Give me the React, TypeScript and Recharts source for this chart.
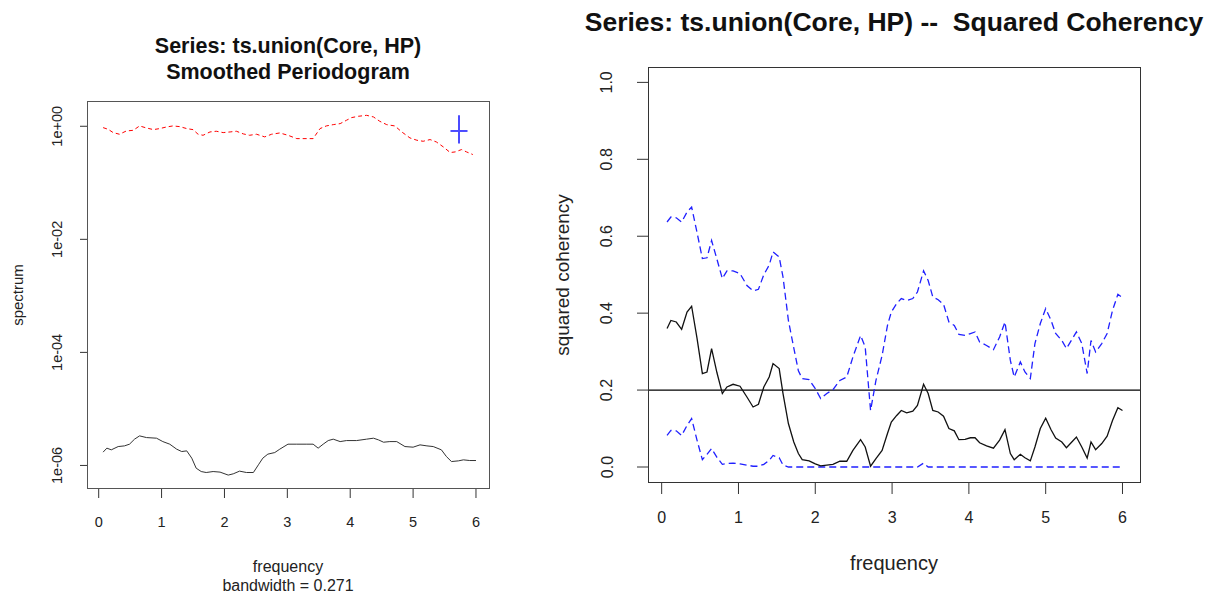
import { LineChart, Line, XAxis, YAxis, ReferenceLine } from 'recharts';

// ---- left panel: smoothed periodogram (log scale) ----
const coreFreq = [0.07, 0.15, 0.23, 0.33, 0.44, 0.55, 0.65, 0.76, 0.87, 0.97, 1.08, 1.18, 1.29, 1.4, 1.5, 1.58, 1.66, 1.77, 1.87, 1.98, 2.09, 2.19, 2.3, 2.4, 2.51, 2.64, 2.75, 2.88, 3.01, 3.15, 3.31, 3.41, 3.52, 3.62, 3.73, 3.84, 3.94, 4.02, 4.13, 4.26, 4.37, 4.47, 4.58, 4.71, 4.82, 4.95, 5.06, 5.16, 5.27, 5.37, 5.48, 5.59, 5.67, 5.77, 5.85, 5.95];
const coreSpec = [0.946, 0.885, 0.773, 0.723, 0.826, 0.849, 1.014, 0.933, 0.873, 0.91, 0.973, 1.014, 0.986, 0.91, 0.873, 0.723, 0.693, 0.794, 0.817, 0.773, 0.794, 0.817, 0.733, 0.693, 0.723, 0.649, 0.723, 0.762, 0.693, 0.605, 0.605, 0.605, 0.91, 1.014, 1.069, 1.114, 1.276, 1.422, 1.503, 1.563, 1.462, 1.225, 1.069, 1.014, 0.794, 0.622, 0.566, 0.543, 0.582, 0.528, 0.432, 0.343, 0.352, 0.387, 0.352, 0.316];

const hpFreq = [0.07, 0.13, 0.2, 0.31, 0.41, 0.49, 0.57, 0.65, 0.76, 0.92, 1.02, 1.13, 1.24, 1.32, 1.4, 1.48, 1.55, 1.63, 1.71, 1.82, 1.93, 2.06, 2.14, 2.24, 2.35, 2.46, 2.54, 2.61, 2.69, 2.8, 2.88, 3.01, 3.15, 3.31, 3.41, 3.49, 3.57, 3.65, 3.73, 3.84, 3.94, 4.1, 4.26, 4.37, 4.45, 4.53, 4.63, 4.74, 4.87, 5.0, 5.11, 5.22, 5.32, 5.45, 5.53, 5.61, 5.72, 5.8, 5.9, 6.0];
const hpSpec = [1.718e-6, 2.023e-6, 1.888e-6, 2.158e-6, 2.218e-6, 2.377e-6, 2.917e-6, 3.334e-6, 3.112e-6, 3.034e-6, 2.642e-6, 2.377e-6, 1.941e-6, 1.762e-6, 1.811e-6, 1.346e-6, 8.95e-7, 7.8e-7, 7.5e-7, 7.8e-7, 7.62e-7, 6.75e-7, 7.11e-7, 7.93e-7, 7.5e-7, 7.5e-7, 1.026e-6, 1.346e-6, 1.585e-6, 1.69e-6, 1.941e-6, 2.377e-6, 2.377e-6, 2.377e-6, 2.377e-6, 2.023e-6, 2.377e-6, 2.754e-6, 2.917e-6, 2.642e-6, 2.754e-6, 2.754e-6, 2.917e-6, 3.034e-6, 2.831e-6, 2.576e-6, 2.642e-6, 2.642e-6, 2.158e-6, 2.104e-6, 2.312e-6, 2.218e-6, 2.158e-6, 1.888e-6, 1.435e-6, 1.172e-6, 1.205e-6, 1.256e-6, 1.222e-6, 1.222e-6];

// bandwidth / CI cross
const crossFreq = 5.73;
const crossHalfBand = 0.1355;
const crossMid = 0.826;
const crossLow = 0.494;
const crossHigh = 1.563;

const freqTicks = [0, 1, 2, 3, 4, 5, 6];
const specTicks = [1e-6, 1e-4, 1e-2, 1];
const specTickLabels = ['1e-06', '1e-04', '1e-02', '1e+00'];

// ---- right panel: squared coherency ----
const cohFreq = [0.07, 0.12, 0.19, 0.26, 0.33, 0.39, 0.46, 0.53, 0.59, 0.65, 0.72, 0.79, 0.85, 0.93, 1.02, 1.11, 1.19, 1.26, 1.33, 1.4, 1.45, 1.53, 1.58, 1.65, 1.72, 1.78, 1.83, 1.92, 2.0, 2.07, 2.15, 2.23, 2.32, 2.41, 2.49, 2.59, 2.65, 2.72, 2.79, 2.87, 2.94, 2.99, 3.06, 3.12, 3.19, 3.27, 3.33, 3.41, 3.47, 3.53, 3.6, 3.67, 3.74, 3.81, 3.87, 3.95, 4.02, 4.08, 4.14, 4.23, 4.32, 4.4, 4.47, 4.54, 4.59, 4.67, 4.73, 4.8, 4.86, 4.93, 5.0, 5.07, 5.13, 5.21, 5.27, 5.34, 5.4, 5.47, 5.54, 5.59, 5.65, 5.73, 5.8, 5.87, 5.94, 6.0];
const cohValue = [0.36, 0.381, 0.377, 0.358, 0.403, 0.418, 0.335, 0.243, 0.247, 0.308, 0.245, 0.191, 0.208, 0.215, 0.21, 0.182, 0.156, 0.163, 0.208, 0.234, 0.269, 0.256, 0.191, 0.113, 0.065, 0.035, 0.019, 0.016, 0.008, 0.003, 0.005, 0.007, 0.015, 0.015, 0.043, 0.071, 0.052, 0.002, 0.022, 0.043, 0.087, 0.117, 0.134, 0.147, 0.141, 0.145, 0.16, 0.215, 0.191, 0.147, 0.143, 0.132, 0.1, 0.094, 0.071, 0.072, 0.076, 0.076, 0.063, 0.055, 0.049, 0.07, 0.097, 0.035, 0.019, 0.033, 0.024, 0.016, 0.052, 0.1, 0.127, 0.097, 0.075, 0.065, 0.05, 0.065, 0.078, 0.052, 0.023, 0.065, 0.045, 0.061, 0.08, 0.121, 0.154, 0.147];
const cohUpper = [0.637, 0.65, 0.648, 0.637, 0.663, 0.676, 0.61, 0.542, 0.544, 0.589, 0.54, 0.49, 0.51, 0.51, 0.503, 0.472, 0.458, 0.462, 0.5, 0.525, 0.559, 0.546, 0.494, 0.381, 0.31, 0.25, 0.23, 0.227, 0.204, 0.178, 0.191, 0.201, 0.225, 0.234, 0.286, 0.342, 0.312, 0.147, 0.225, 0.29, 0.368, 0.403, 0.425, 0.438, 0.433, 0.438, 0.455, 0.51, 0.485, 0.442, 0.435, 0.423, 0.377, 0.368, 0.345, 0.342, 0.347, 0.351, 0.325, 0.316, 0.305, 0.338, 0.377, 0.277, 0.234, 0.273, 0.247, 0.23, 0.321, 0.373, 0.412, 0.381, 0.347, 0.329, 0.308, 0.331, 0.351, 0.321, 0.243, 0.329, 0.299, 0.321, 0.347, 0.407, 0.449, 0.44];
const cohLower = [0.082, 0.095, 0.094, 0.082, 0.108, 0.126, 0.07, 0.019, 0.033, 0.048, 0.025, 0.007, 0.009, 0.01, 0.008, 0.005, 0.002, 0.002, 0.007, 0.017, 0.03, 0.024, 0.005, 0, 0, 0, 0, 0, 0, 0, 0, 0, 0, 0, 0, 0, 0, 0, 0, 0, 0, 0, 0, 0, 0, 0, 0, 0.01, 0, 0, 0, 0, 0, 0, 0, 0, 0, 0, 0, 0, 0, 0, 0, 0, 0, 0, 0, 0, 0, 0, 0, 0, 0, 0, 0, 0, 0, 0, 0, 0, 0, 0, 0, 0, 0, 0];
const cohTicks = [0, 0.2, 0.4, 0.6, 0.8, 1.0];
const cohThreshold = 0.2;

const FONT = '"Liberation Sans", Arial, sans-serif';

const coreData = coreFreq.map((f, i) => ({ freq: f, spec: coreSpec[i] }));
const hpData = hpFreq.map((f, i) => ({ freq: f, spec: hpSpec[i] }));
const cohData = cohFreq.map((f, i) => ({ freq: f, coh: cohValue[i], upper: cohUpper[i], lower: cohLower[i] }));

function LeftXTick({ x, payload }: any) {
  return (
    <text x={x} y={522} textAnchor="middle" dominantBaseline="central" fontSize={14.5} fill="#222" fontFamily={FONT}>
      {payload.value}
    </text>
  );
}

function LeftYTick({ y, payload }: any) {
  const idx = specTicks.indexOf(payload.value);
  return (
    <text x={57} y={y} transform={`rotate(-90, 57, ${y})`} textAnchor="middle" dominantBaseline="central" fontSize={14.5} fill="#222" fontFamily={FONT}>
      {specTickLabels[idx]}
    </text>
  );
}

function RightXTick({ x, payload }: any) {
  return (
    <text x={x} y={517} textAnchor="middle" dominantBaseline="central" fontSize={16} fill="#222" fontFamily={FONT}>
      {payload.value}
    </text>
  );
}

function RightYTick({ y, payload }: any) {
  return (
    <text x={67} y={y} transform={`rotate(-90, 67, ${y})`} textAnchor="middle" dominantBaseline="central" fontSize={16} fill="#222" fontFamily={FONT}>
      {payload.value.toFixed(1)}
    </text>
  );
}

export default function App() {
  return (
    <div style={{ position: 'absolute', left: 0, top: 0, width: 1209, height: 599, overflow: 'hidden', background: '#fff', fontFamily: FONT }}>
      {/* left: smoothed periodogram */}
      <div style={{ position: 'absolute', left: 0, top: 0 }}>
        <LineChart width={600} height={599} margin={{ top: 101, right: 110, bottom: 80, left: 47 }}>
          <XAxis
            dataKey="freq"
            type="number"
            domain={[-0.186, 6.223]}
            ticks={freqTicks}
            allowDataOverflow
            height={30}
            axisLine={false}
            tickLine={{ stroke: '#333' }}
            tickSize={9}
            tick={<LeftXTick />}
          />
          <YAxis
            type="number"
            scale="log"
            domain={[3.83e-7, 2.8]}
            ticks={specTicks}
            allowDataOverflow
            width={40}
            axisLine={false}
            tickLine={{ stroke: '#333' }}
            tickSize={7}
            tick={<LeftYTick />}
          />
          <Line data={coreData} dataKey="spec" type="linear" stroke="#ff0000" strokeWidth={1} strokeDasharray="4 3" dot={false} isAnimationActive={false} />
          <Line data={hpData} dataKey="spec" type="linear" stroke="#333" strokeWidth={1} dot={false} isAnimationActive={false} />
          <ReferenceLine segment={[{ x: crossFreq - crossHalfBand, y: crossMid }, { x: crossFreq + crossHalfBand, y: crossMid }]} stroke="#4b4bff" strokeWidth={2} />
          <ReferenceLine segment={[{ x: crossFreq, y: crossLow }, { x: crossFreq, y: crossHigh }]} stroke="#4b4bff" strokeWidth={2} />
        </LineChart>
      </div>

      {/* right: squared coherency */}
      <div style={{ position: 'absolute', left: 540, top: 0 }}>
        <LineChart width={669} height={599} data={cohData} margin={{ top: 67, right: 69, bottom: 56, left: 48 }}>
          <XAxis
            dataKey="freq"
            type="number"
            domain={[-0.178, 6.228]}
            ticks={freqTicks}
            allowDataOverflow
            height={60}
            axisLine={false}
            tickLine={{ stroke: '#333' }}
            tickSize={11}
            tick={<RightXTick />}
          />
          <YAxis
            type="number"
            domain={[-0.0416, 1.04]}
            ticks={cohTicks}
            allowDataOverflow
            width={60}
            axisLine={false}
            tickLine={{ stroke: '#333' }}
            tickSize={11}
            tick={<RightYTick />}
          />
          <ReferenceLine y={cohThreshold} stroke="#000" strokeWidth={1.3} />
          <Line dataKey="upper" type="linear" stroke="#2020ff" strokeWidth={1.3} strokeDasharray="7 4" dot={false} isAnimationActive={false} />
          <Line dataKey="lower" type="linear" stroke="#2020ff" strokeWidth={1.3} strokeDasharray="7 4" dot={false} isAnimationActive={false} />
          <Line dataKey="coh" type="linear" stroke="#111" strokeWidth={1.3} dot={false} isAnimationActive={false} />
        </LineChart>
      </div>

      {/* plot boxes */}
      <div style={{ position: 'absolute', left: 87, top: 101, width: 403, height: 388, border: '1px solid #555', boxSizing: 'border-box' }} />
      <div style={{ position: 'absolute', left: 648, top: 67, width: 493, height: 416, border: '1px solid #333', boxSizing: 'border-box' }} />

      {/* titles and axis labels */}
      <svg width={1209} height={599} style={{ position: 'absolute', left: 0, top: 0, pointerEvents: 'none' }} fontFamily={FONT}>
        <text x={288} y={46} textAnchor="middle" dominantBaseline="central" fontSize={21.5} fontWeight="bold" fill="#111">Series: ts.union(Core, HP)</text>
        <text x={288} y={72} textAnchor="middle" dominantBaseline="central" fontSize={21.5} fontWeight="bold" fill="#111">Smoothed Periodogram</text>
        <text x={17} y={295} transform="rotate(-90, 17, 295)" textAnchor="middle" dominantBaseline="central" fontSize={15} fill="#222">spectrum</text>
        <text x={288} y={566} textAnchor="middle" dominantBaseline="central" fontSize={16} fill="#222">frequency</text>
        <text x={288} y={585} textAnchor="middle" dominantBaseline="central" fontSize={16} fill="#222">bandwidth = 0.271</text>
        <text x={894} y={22} textAnchor="middle" dominantBaseline="central" fontSize={26.5} fontWeight="bold" fill="#111" xmlSpace="preserve">Series: ts.union(Core, HP) --  Squared Coherency</text>
        <text x={562} y={275} transform="rotate(-90, 562, 275)" textAnchor="middle" dominantBaseline="central" fontSize={19} fill="#222">squared coherency</text>
        <text x={894} y={563} textAnchor="middle" dominantBaseline="central" fontSize={20} fill="#222">frequency</text>
      </svg>
    </div>
  );
}
